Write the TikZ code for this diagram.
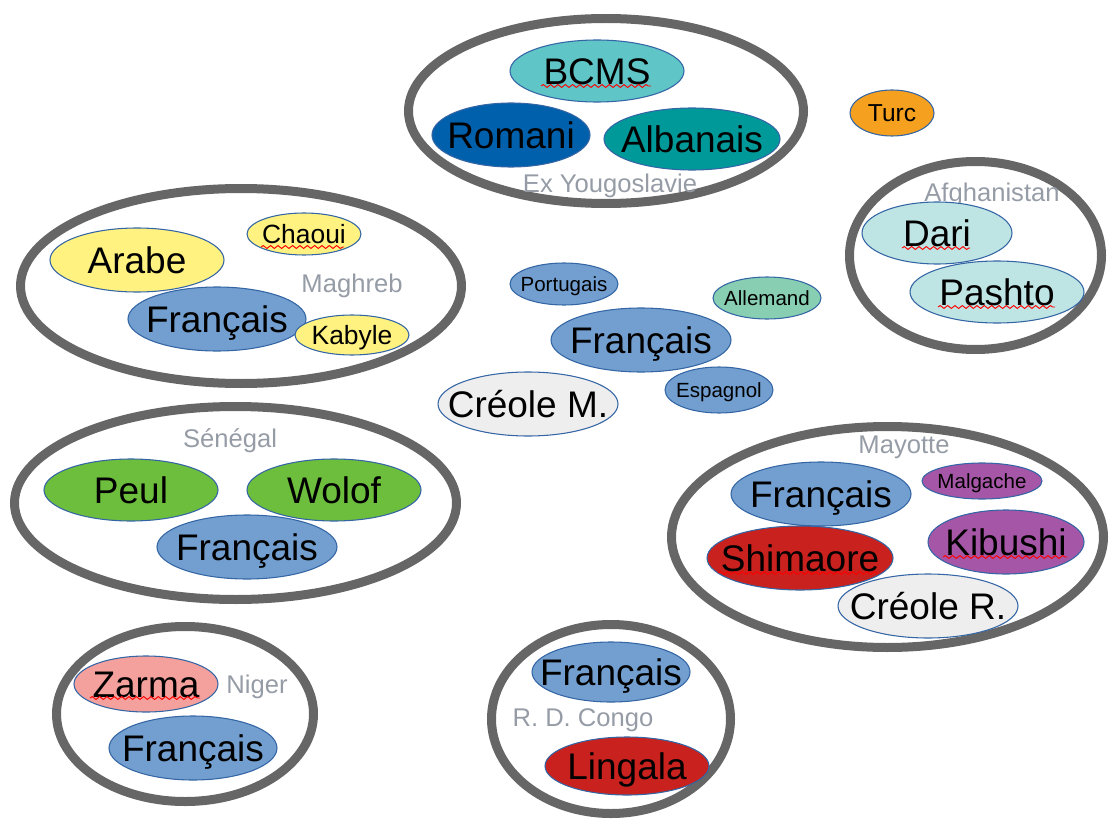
\documentclass[tikz,border=0pt]{standalone}
\usepackage{fontspec}
\setmainfont{Liberation Sans}
\usetikzlibrary{shapes.geometric,calc,decorations.pathmorphing}
\definecolor{ringc}{HTML}{666666}
\definecolor{edgec}{HTML}{3465A4}
\definecolor{lblc}{RGB}{150,156,166}
\definecolor{frc}{HTML}{729FCF}
\definecolor{bcmsc}{RGB}{95,197,199}
\definecolor{romc}{RGB}{0,96,172}
\definecolor{albc}{RGB}{0,153,153}
\definecolor{yelc}{RGB}{255,242,128}
\definecolor{allc}{RGB}{136,206,178}
\definecolor{crc}{HTML}{EEEEEE}
\definecolor{turc}{RGB}{245,160,30}
\definecolor{afc}{RGB}{190,228,228}
\definecolor{grc}{RGB}{108,190,60}
\definecolor{purc}{RGB}{166,86,166}
\definecolor{redc}{HTML}{C9211E}
\definecolor{zarc}{RGB}{244,160,156}
\begin{document}
\begin{tikzpicture}[x=0.75pt,y=-0.75pt,
  ringo/.style 2 args={draw=ringc, line width=6.75pt, ellipse, inner sep=0pt,
     minimum width=#1*1.5pt, minimum height=#2*1.5pt},
  lange/.style n args={3}{draw=edgec, line width=0.8pt, ellipse, inner sep=0pt,
     fill=#1, minimum width=#2*1.5pt, minimum height=#3*1.5pt},
  txt/.style={inner sep=0pt, text depth=0pt, text=black},
  big/.style={txt, text height=19.87pt, font=\fontsize{27.75}{30}\selectfont},
  mid/.style={txt, text height=14.18pt, font=\fontsize{19.8}{22}\selectfont},
  sml/.style={txt, text height=11.03pt, font=\fontsize{15.4}{17}\selectfont},
  tur/.style={txt, text height=13.17pt, font=\fontsize{18.4}{20}\selectfont},
  lbl/.style={inner sep=0pt, text height=13.75pt, text depth=0pt, text=lblc,
     font=\fontsize{19.2}{21}\selectfont},
  squig/.style={draw=red, line width=0.7pt, decorate,
     decoration={snake, segment length=5.5pt, amplitude=1.1pt}}]
\useasboundingbox (0,0) rectangle (1110,820);

% ---------- rings ----------
\node[ringo={197.5}{92.5}] (ryougo) at (606,111) {};
\node[ringo={220.5}{97.5}] (rmagh) at (241,286) {};
\node[ringo={126}{94}] (rafgh) at (975.5,255.5) {};
\node[ringo={221}{96.5}] (rsene) at (235.5,503) {};
\node[ringo={216}{110.5}] (rmayo) at (887.5,537) {};
\node[ringo={128.5}{87.5}] (rniger) at (185,714) {};
\node[ringo={119.5}{94.5}] (rcongo) at (611,719) {};

% ---------- Ex Yougoslavie ----------
\node[lange={bcmsc}{87}{31}] (bcms) at (597,71) {};
\node[big] (bcmst) at (bcms.center) {BCMS};
\node[lange={romc}{79}{32}] (romani) at (511,135) {};
\node[big] (romanit) at (romani.center) {Romani};
\node[lange={albc}{88}{31}] (alb) at (692,139) {};
\node[big] (albt) at (alb.center) {Albanais};
\node[lbl] (lyougo) at (610,183) {Ex Yougoslavie};

% ---------- Maghreb ----------
\node[lange={yelc}{87}{32}] (arabe) at (137,260) {};
\node[big] (arabet) at (arabe.center) {Arabe};
\node[lange={yelc}{57}{21}] (chaoui) at (304,234) {};
\node[mid] (chaouit) at (chaoui.center) {Chaoui};
\node[lbl] (lmagh) at (352,283) {Maghreb};
\node[lange={frc}{89}{32}] (frmagh) at (217,319) {};
\node[big] (frmaght) at (frmagh.center) {Français};
\node[lange={yelc}{57}{20}] (kabyle) at (352,335) {};
\node[mid] (kabylet) at (kabyle.center) {Kabyle};

% ---------- centre ----------
\node[lange={frc}{54}{21}] (port) at (564,284) {};
\node[sml] (portt) at (port.center) {Portugais};
\node[lange={allc}{54}{21}] (allem) at (767,298) {};
\node[sml] (allemt) at (allem.center) {Allemand};
\node[lange={frc}{90}{32}] (frc) at (641,340) {};
\node[big] (frct) at (frc.center) {Français};
\node[lange={frc}{54}{23}] (esp) at (719,390) {};
\node[sml] (espt) at (esp.center) {Espagnol};
\node[lange={crc}{90}{32}] (crm) at (528,404) {};
\node[big] (crmt) at (crm.center) {Créole M.};

% ---------- Turc ----------
\node[lange={turc}{42}{23}] (turc) at (892,113) {};
\node[tur] (turct) at (turc.center) {Turc};

% ---------- Afghanistan ----------
\node[lbl] (lafgh) at (992,192) {Afghanistan};
\node[lange={afc}{75}{31}] (dari) at (937,233) {};
\node[big] (darit) at (dari.center) {Dari};
\node[lange={afc}{87}{31}] (pashto) at (997,292) {};
\node[big] (pashtot) at (pashto.center) {Pashto};

% ---------- Sénégal ----------
\node[lbl] (lsene) at (230,438) {Sénégal};
\node[lange={grc}{87}{31}] (peul) at (131,490) {};
\node[big] (peult) at (peul.center) {Peul};
\node[lange={grc}{87}{31}] (wolof) at (334,490) {};
\node[big] (woloft) at (wolof.center) {Wolof};
\node[lange={frc}{90}{32}] (frsene) at (247,547) {};
\node[big] (frsenet) at (frsene.center) {Français};

% ---------- Mayotte ----------
\node[lbl] (lmayo) at (904,444) {Mayotte};
\node[lange={frc}{90}{32}] (frmayo) at (821,494) {};
\node[big] (frmayot) at (frmayo.center) {Français};
\node[lange={purc}{60}{18}] (malg) at (982,481) {};
\node[sml] (malgt) at (malg.center) {Malgache};
\node[lange={purc}{78}{32}] (kib) at (1006,542) {};
\node[big] (kibt) at (kib.center) {Kibushi};
\node[lange={redc}{93}{32}] (shim) at (800,558) {};
\node[big] (shimt) at (shim.center) {Shimaore};
\node[lange={crc}{90}{32}] (crr) at (928,606) {};
\node[big] (crrt) at (crr.center) {Créole R.};

% ---------- Niger ----------
\node[lange={zarc}{72}{28}] (zarma) at (146,684) {};
\node[big] (zarmat) at (zarma.center) {Zarma};
\node[lbl] (lniger) at (257,684) {Niger};
\node[lange={frc}{84}{32}] (frniger) at (193,748) {};
\node[big] (frnigert) at (frniger.center) {Français};

% ---------- R. D. Congo ----------
\node[lange={frc}{79}{30}] (frcongo) at (611,672) {};
\node[big] (frcongot) at (frcongo.center) {Français};
\node[lbl] (lcongo) at (583,717) {R. D. Congo};
\node[lange={redc}{82}{29}] (ling) at (627,766) {};
\node[big] (lingt) at (ling.center) {Lingala};

% ---------- spell-check squiggles ----------
\draw[squig] ($(bcms.center)+(-56,15)$) -- ++(110,0);
\draw[squig] ($(chaoui.center)+(-43,13)$) -- ++(83,0);
\draw[squig] ($(dari.center)+(-35,15)$) -- ++(68,0);
\draw[squig] ($(pashto.center)+(-59,15)$) -- ++(117,0);
\draw[squig] ($(kib.center)+(-63,15)$) -- ++(124,0);
\draw[squig] ($(shim.center)+(-82,15)$) -- ++(160,0);
\draw[squig] ($(zarma.center)+(-56,14)$) -- ++(110,0);
\end{tikzpicture}
\end{document}
